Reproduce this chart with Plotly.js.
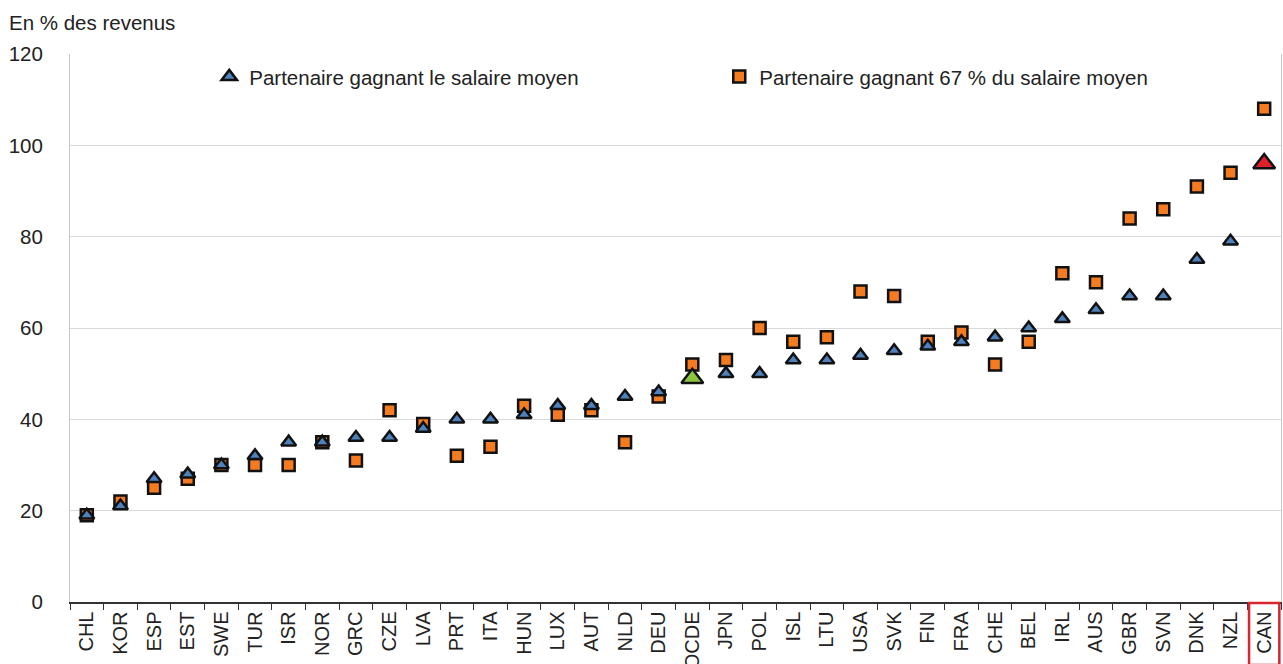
<!DOCTYPE html>
<html>
<head>
<meta charset="utf-8">
<script src="https://cdn.plot.ly/plotly-3.0.1.min.js"></script>
<style>
  html, body { margin: 0; padding: 0; background: #fff; }
  #chart { width: 1283px; height: 664px; }
</style>
</head>
<body>
<div id="chart"></div>
<script>
// countries, sorted by the average-wage partner value
const countries = ["CHL","KOR","ESP","EST","SWE","TUR","ISR","NOR","GRC","CZE","LVA","PRT","ITA","HUN","LUX","AUT","NLD","DEU","OCDE","JPN","POL","ISL","LTU","USA","SVK","FIN","FRA","CHE","BEL","IRL","AUS","GBR","SVN","DNK","NZL","CAN"];

// partner earning the average wage (triangles)
const partnerAvg = [19,21,27,28,30,32,35,35,36,36,38,40,40,41,43,43,45,46,49,50,50,53,53,54,55,56,57,58,60,62,64,67,67,75,79,96];

// partner earning 67% of the average wage (squares)
const partner67 = [19,22,25,27,30,30,30,35,31,42,39,32,34,43,41,42,35,45,52,53,60,57,58,68,67,57,59,52,57,72,70,84,86,91,94,108];

const labelAvg = "Partenaire gagnant le salaire moyen";
const label67 = "Partenaire gagnant 67 % du salaire moyen";

// highlight OCDE (green) and CAN (red) triangles
const triColors = countries.map(c => c === "OCDE" ? "#8cc63f" : (c === "CAN" ? "#e0202a" : "#4f81bd"));
const triSizes = countries.map(c => (c === "OCDE" || c === "CAN") ? 19 : 13);

const traces = [
  {
    x: countries,
    y: partner67,
    type: "scatter",
    mode: "markers",
    name: label67,
    marker: { symbol: "square", size: 12, opacity: 1, color: "#f47b20", line: { color: "#111", width: 2.5 } },
    legendrank: 2
  },
  {
    x: countries,
    y: partnerAvg,
    type: "scatter",
    mode: "markers",
    name: labelAvg,
    marker: { symbol: "triangle-up", size: triSizes, opacity: 1, color: triColors, line: { color: "#111", width: 2.5 } },
    legendrank: 1
  }
];

const layout = {
  width: 1283,
  height: 664,
  margin: { l: 70, r: 2, t: 54, b: 62 },
  paper_bgcolor: "#fff",
  plot_bgcolor: "#fff",
  font: { family: "Liberation Sans, Arial, sans-serif", color: "#222", size: 20 },
  showlegend: true,
  legend: {
    orientation: "h",
    x: 0.115, y: 0.995,
    xanchor: "left", yanchor: "top",
    entrywidth: 465,
    itemwidth: 30,
    font: { size: 20.5, color: "#222" },
    bgcolor: "rgba(0,0,0,0)",
    traceorder: "normal"
  },
  xaxis: {
    type: "category",
    tickangle: -90,
    tickfont: { size: 20, color: "#222" },
    ticks: "outside",
    tickson: "boundaries",
    ticklen: 6,
    tickcolor: "#333",
    showline: true,
    linecolor: "#333",
    linewidth: 1.5,
    showgrid: false,
    range: [-0.5, 35.5],
    zeroline: false
  },
  yaxis: {
    range: [0, 120],
    dtick: 20,
    tickfont: { size: 20.5, color: "#222" },
    showgrid: true,
    gridcolor: "#d9d9d9",
    gridwidth: 1,
    showline: true,
    mirror: true,
    linecolor: "#c8c8c8",
    linewidth: 1,
    zeroline: false,
    ticks: "",
    ticklabelstandoff: 22
  },
  annotations: [
    {
      text: "En % des revenus",
      xref: "paper", yref: "paper",
      x: -0.052, y: 1.058,
      xanchor: "left", yanchor: "middle",
      showarrow: false,
      font: { size: 20.5, color: "#222" }
    }
  ],
  shapes: [
    {
      type: "rect",
      xref: "x", yref: "paper",
      x0: 34.55, x1: 35.45,
      y0: -0.002, y1: -0.115,
      line: { color: "#d9262e", width: 2.5 },
      fillcolor: "rgba(0,0,0,0)"
    }
  ]
};

Plotly.newPlot("chart", traces, layout, { displayModeBar: false, staticPlot: true });
</script>
</body>
</html>
